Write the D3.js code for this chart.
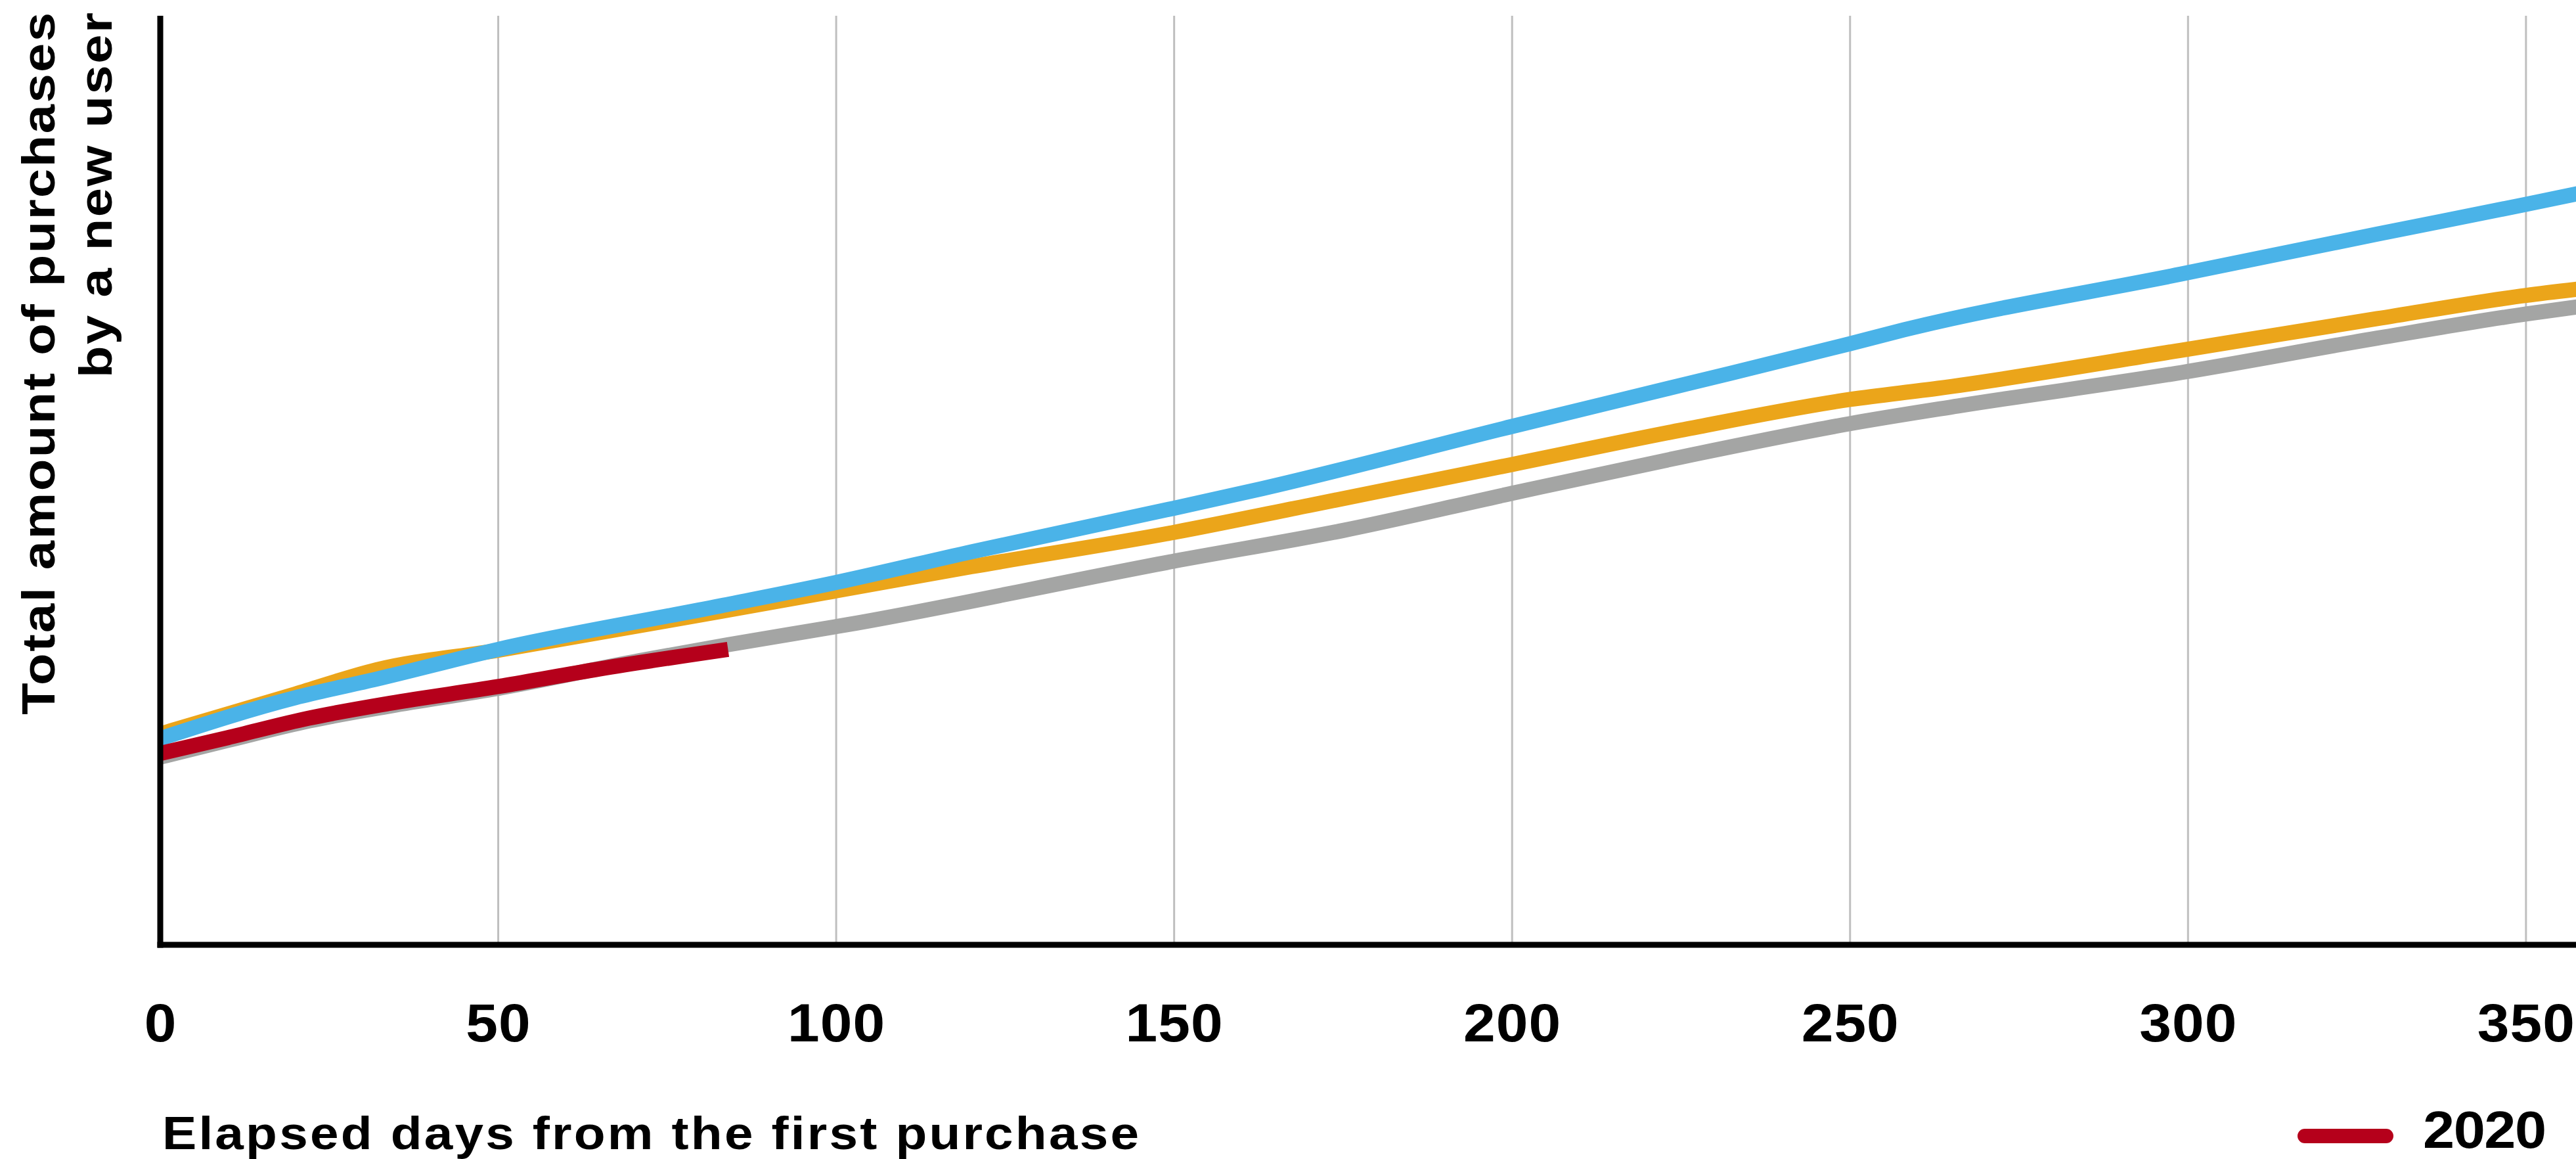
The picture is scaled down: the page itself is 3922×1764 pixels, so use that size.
<!DOCTYPE html>
<html>
<head>
<meta charset="utf-8">
<script src="https://cdn.jsdelivr.net/npm/d3@7"></script>
<style>
  html, body { margin: 0; padding: 0; background: #ffffff; }
  svg { display: block; }
  text { font-family: "Liberation Sans", Arial, Helvetica, sans-serif; font-weight: 700; fill: #000; }
</style>
</head>
<body>
<svg id="chart" width="3922" height="1764"></svg>
<script>
// Cumulative purchase amount per new user (index, 0 = baseline of the axis),
// sampled by days elapsed since the first purchase.
const days2017 = [0, 10, 22, 34, 50, 71, 84, 102, 150, 175, 200, 225, 250, 266, 299, 328, 350, 358];
const vals2017 = [20.2, 22.0, 24.1, 25.7, 27.6, 30.6, 32.3, 34.5, 41.3, 44.6, 48.6, 52.5, 56.1, 58.0, 61.6, 65.3, 67.9, 68.7];

const days2018 = [0, 20, 32, 50, 83, 100, 120, 150, 170, 200, 225, 250, 263, 299, 328, 350, 358];
const vals2018 = [22.7, 27.0, 29.6, 31.7, 35.9, 38.1, 40.7, 44.4, 47.3, 51.7, 55.4, 58.7, 59.9, 64.0, 67.4, 69.9, 70.6];

const days2019 = [0, 20, 32, 50, 83, 100, 120, 150, 163, 200, 226, 250, 258, 299, 328, 350, 358];
const vals2019 = [22.2, 26.6, 28.6, 31.8, 36.5, 39.0, 42.3, 47.0, 49.1, 55.8, 60.4, 64.7, 66.2, 72.2, 76.5, 79.7, 80.9];

const days2020 = [0, 10, 22, 34, 50, 65, 84];
const vals2020 = [20.6, 22.3, 24.4, 26.0, 27.8, 29.7, 31.8];

const seriesNames  = ["2017", "2018", "2019", "2020"];
const seriesColors = ["#a4a5a4", "#eba51a", "#4ab3e8", "#b5001b"];
const seriesDays   = [days2017, days2018, days2019, days2020];
const seriesVals   = [vals2017, vals2018, vals2019, vals2020];

const xTicks = [0, 50, 100, 150, 200, 250, 300, 350];
const legendItems = ["2020"];

const xTitle = "Elapsed days from the first purchase";
const yTitleLines = ["Total amount of purchases", "by a new user"];

// ---- layout ----
const W = 3922, H = 1764;
const plotLeft = 244, plotTop = 24, plotBottom = 1438;
const pxPerDay = 10.291;
const widen = 1.12;      // horizontal stretch for the extended lettering

const svg = d3.select("#chart");
svg.append("rect").attr("width", W).attr("height", H).attr("fill", "#fff");

const x = d3.scaleLinear().domain([0, 365]).range([plotLeft, plotLeft + 365 * pxPerDay]);
const y = d3.scaleLinear().domain([0, 100]).range([plotBottom, plotTop]);

// vertical gridlines
svg.append("g")
  .selectAll("line")
  .data(xTicks.filter(d => d > 0))
  .join("line")
  .attr("x1", d => x(d)).attr("x2", d => x(d))
  .attr("y1", plotTop).attr("y2", plotBottom)
  .attr("stroke", "#bfbfbf")
  .attr("stroke-width", 3);

// series lines
const line = d3.line()
  .x(p => x(p[0]))
  .y(p => y(p[1]))
  .curve(d3.curveMonotoneX);

const series = seriesNames.map((name, i) => ({
  name,
  color: seriesColors[i],
  points: seriesDays[i].map((d, j) => [d, seriesVals[i][j]])
}));

svg.append("g")
  .selectAll("path")
  .data(series)
  .join("path")
  .attr("d", s => line(s.points))
  .attr("fill", "none")
  .attr("stroke", s => s.color)
  .attr("stroke-width", 23)
  .attr("stroke-linejoin", "round")
  .attr("stroke-linecap", "butt");

// x axis tick labels
const xAxis = d3.axisBottom(x).tickValues(xTicks).tickSize(0).tickPadding(0).tickFormat(d3.format("d"));
const gx = svg.append("g").attr("transform", `translate(0,${plotBottom})`).call(xAxis);
gx.select(".domain").remove();
gx.selectAll("text")
  .attr("y", 0)
  .attr("dy", 0)
  .attr("transform", "translate(0,147) scale(1.08,1)")
  .attr("font-size", 81)
  .style("font-family", "'Liberation Sans', Arial, Helvetica, sans-serif")
  .style("font-weight", 700)
  .attr("letter-spacing", 1)
  .attr("fill", "#000");

// axis rules
svg.append("line")
  .attr("x1", plotLeft - 4.5).attr("x2", W)
  .attr("y1", plotBottom).attr("y2", plotBottom)
  .attr("stroke", "#000").attr("stroke-width", 9);
svg.append("line")
  .attr("x1", plotLeft).attr("x2", plotLeft)
  .attr("y1", plotTop).attr("y2", plotBottom + 4.5)
  .attr("stroke", "#000").attr("stroke-width", 9);

// x-axis title
svg.append("text")
  .attr("transform", `translate(247,1749) scale(${widen},1)`)
  .attr("font-size", 70)
  .attr("textLength", 1487 / widen)
  .attr("lengthAdjust", "spacing")
  .text(xTitle);

// y-axis title, two lines reading upward, right-aligned at the top
const yLineBaselines = [83, 170];
const yLineLengths = [1069, 556];
svg.append("g")
  .selectAll("text")
  .data(yTitleLines)
  .join("text")
  .attr("transform", (d, i) => `rotate(-90) translate(-19,${yLineBaselines[i]}) scale(${widen},1)`)
  .attr("text-anchor", "end")
  .attr("font-size", 71)
  .attr("textLength", (d, i) => yLineLengths[i] / widen)
  .attr("lengthAdjust", "spacing")
  .text(d => d);

// legend
const legend = svg.append("g")
  .selectAll("g")
  .data(legendItems)
  .join("g")
  .attr("transform", "translate(3509,1729)");
legend.append("line")
  .attr("x1", 0).attr("x2", 124)
  .attr("stroke", d => seriesColors[seriesNames.indexOf(d)])
  .attr("stroke-width", 22)
  .attr("stroke-linecap", "round");
legend.append("text")
  .attr("transform", "translate(180,18) scale(1.08,1)")
  .attr("font-size", 80)
  .attr("textLength", 188 / 1.08)
  .attr("lengthAdjust", "spacing")
  .text(d => d);
</script>
</body>
</html>
